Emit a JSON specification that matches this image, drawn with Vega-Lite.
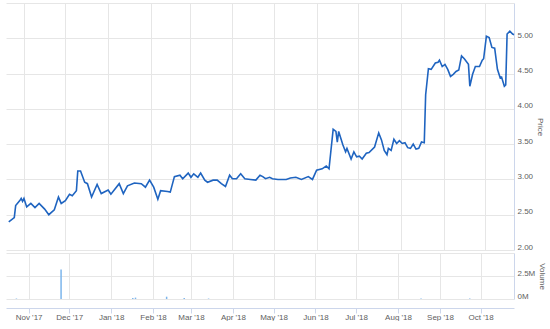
{
  "$schema": "https://vega.github.io/schema/vega-lite/v6.json",
  "padding": {"left": 5, "top": 3, "right": 0, "bottom": 0},
  "config": {
    "view": {"stroke": null},
    "font": "Liberation Sans",
    "axis": {
      "labelFont": "Liberation Sans",
      "labelFontSize": 8,
      "labelColor": "#606060",
      "titleFont": "Liberation Sans",
      "titleFontSize": 8,
      "titleFontWeight": "normal",
      "titleColor": "#606060",
      "gridColor": "#e6e6e6",
      "gridWidth": 1
    },
    "concat": {"spacing": 2}
  },
  "datasets": {
    "price": [
      {"date": "2017-10-21", "price": 2.40},
      {"date": "2017-10-25", "price": 2.46},
      {"date": "2017-10-26", "price": 2.63},
      {"date": "2017-10-29", "price": 2.70},
      {"date": "2017-10-30", "price": 2.73},
      {"date": "2017-10-31", "price": 2.69},
      {"date": "2017-11-01", "price": 2.73},
      {"date": "2017-11-03", "price": 2.61},
      {"date": "2017-11-06", "price": 2.66},
      {"date": "2017-11-09", "price": 2.60},
      {"date": "2017-11-12", "price": 2.66},
      {"date": "2017-11-16", "price": 2.58},
      {"date": "2017-11-19", "price": 2.50},
      {"date": "2017-11-23", "price": 2.57},
      {"date": "2017-11-26", "price": 2.75},
      {"date": "2017-11-28", "price": 2.66},
      {"date": "2017-12-01", "price": 2.70},
      {"date": "2017-12-04", "price": 2.79},
      {"date": "2017-12-06", "price": 2.77},
      {"date": "2017-12-09", "price": 2.84},
      {"date": "2017-12-10", "price": 3.12},
      {"date": "2017-12-12", "price": 3.12},
      {"date": "2017-12-15", "price": 2.96},
      {"date": "2017-12-17", "price": 2.94},
      {"date": "2017-12-20", "price": 2.75},
      {"date": "2017-12-24", "price": 2.93},
      {"date": "2017-12-27", "price": 2.80},
      {"date": "2018-01-01", "price": 2.85},
      {"date": "2018-01-03", "price": 2.79},
      {"date": "2018-01-09", "price": 2.94},
      {"date": "2018-01-12", "price": 2.80},
      {"date": "2018-01-15", "price": 2.91},
      {"date": "2018-01-20", "price": 2.95},
      {"date": "2018-01-25", "price": 2.94},
      {"date": "2018-01-28", "price": 2.89},
      {"date": "2018-01-31", "price": 2.99},
      {"date": "2018-02-03", "price": 2.89},
      {"date": "2018-02-06", "price": 2.72},
      {"date": "2018-02-08", "price": 2.84},
      {"date": "2018-02-13", "price": 2.83},
      {"date": "2018-02-15", "price": 2.82},
      {"date": "2018-02-18", "price": 3.04},
      {"date": "2018-02-22", "price": 3.06},
      {"date": "2018-02-24", "price": 3.01},
      {"date": "2018-02-28", "price": 3.09},
      {"date": "2018-03-02", "price": 3.03},
      {"date": "2018-03-04", "price": 3.08},
      {"date": "2018-03-07", "price": 3.03},
      {"date": "2018-03-09", "price": 3.09},
      {"date": "2018-03-12", "price": 2.99},
      {"date": "2018-03-14", "price": 2.96},
      {"date": "2018-03-18", "price": 2.99},
      {"date": "2018-03-21", "price": 2.99},
      {"date": "2018-03-24", "price": 2.94},
      {"date": "2018-03-27", "price": 2.90},
      {"date": "2018-03-30", "price": 3.06},
      {"date": "2018-04-01", "price": 3.01},
      {"date": "2018-04-04", "price": 3.01},
      {"date": "2018-04-07", "price": 3.08},
      {"date": "2018-04-10", "price": 3.01},
      {"date": "2018-04-14", "price": 3.00},
      {"date": "2018-04-18", "price": 2.99},
      {"date": "2018-04-21", "price": 3.06},
      {"date": "2018-04-23", "price": 3.04},
      {"date": "2018-04-25", "price": 3.01},
      {"date": "2018-04-28", "price": 3.03},
      {"date": "2018-04-30", "price": 3.01},
      {"date": "2018-05-04", "price": 3.00},
      {"date": "2018-05-10", "price": 3.00},
      {"date": "2018-05-13", "price": 3.02},
      {"date": "2018-05-17", "price": 3.03},
      {"date": "2018-05-21", "price": 3.00},
      {"date": "2018-05-26", "price": 3.04},
      {"date": "2018-05-29", "price": 3.00},
      {"date": "2018-06-01", "price": 3.13},
      {"date": "2018-06-05", "price": 3.15},
      {"date": "2018-06-08", "price": 3.19},
      {"date": "2018-06-10", "price": 3.15},
      {"date": "2018-06-13", "price": 3.71},
      {"date": "2018-06-15", "price": 3.68},
      {"date": "2018-06-16", "price": 3.53},
      {"date": "2018-06-17", "price": 3.68},
      {"date": "2018-06-20", "price": 3.49},
      {"date": "2018-06-22", "price": 3.39},
      {"date": "2018-06-23", "price": 3.44},
      {"date": "2018-06-26", "price": 3.29},
      {"date": "2018-06-28", "price": 3.39},
      {"date": "2018-06-30", "price": 3.32},
      {"date": "2018-07-02", "price": 3.33},
      {"date": "2018-07-04", "price": 3.29},
      {"date": "2018-07-07", "price": 3.37},
      {"date": "2018-07-09", "price": 3.38},
      {"date": "2018-07-13", "price": 3.46},
      {"date": "2018-07-16", "price": 3.66},
      {"date": "2018-07-18", "price": 3.56},
      {"date": "2018-07-20", "price": 3.41},
      {"date": "2018-07-22", "price": 3.35},
      {"date": "2018-07-23", "price": 3.44},
      {"date": "2018-07-25", "price": 3.41},
      {"date": "2018-07-27", "price": 3.57},
      {"date": "2018-07-29", "price": 3.51},
      {"date": "2018-07-31", "price": 3.55},
      {"date": "2018-08-02", "price": 3.51},
      {"date": "2018-08-04", "price": 3.52},
      {"date": "2018-08-06", "price": 3.45},
      {"date": "2018-08-08", "price": 3.44},
      {"date": "2018-08-10", "price": 3.50},
      {"date": "2018-08-12", "price": 3.43},
      {"date": "2018-08-14", "price": 3.44},
      {"date": "2018-08-16", "price": 3.53},
      {"date": "2018-08-18", "price": 3.52},
      {"date": "2018-08-19", "price": 4.20},
      {"date": "2018-08-21", "price": 4.57},
      {"date": "2018-08-23", "price": 4.56},
      {"date": "2018-08-26", "price": 4.65},
      {"date": "2018-08-28", "price": 4.66},
      {"date": "2018-08-29", "price": 4.69},
      {"date": "2018-08-31", "price": 4.60},
      {"date": "2018-09-02", "price": 4.63},
      {"date": "2018-09-04", "price": 4.56},
      {"date": "2018-09-06", "price": 4.46},
      {"date": "2018-09-08", "price": 4.49},
      {"date": "2018-09-10", "price": 4.53},
      {"date": "2018-09-12", "price": 4.55},
      {"date": "2018-09-14", "price": 4.75},
      {"date": "2018-09-16", "price": 4.71},
      {"date": "2018-09-19", "price": 4.63},
      {"date": "2018-09-20", "price": 4.32},
      {"date": "2018-09-22", "price": 4.49},
      {"date": "2018-09-24", "price": 4.60},
      {"date": "2018-09-27", "price": 4.60},
      {"date": "2018-09-29", "price": 4.69},
      {"date": "2018-09-30", "price": 4.71},
      {"date": "2018-10-02", "price": 5.03},
      {"date": "2018-10-04", "price": 5.01},
      {"date": "2018-10-06", "price": 4.87},
      {"date": "2018-10-08", "price": 4.86},
      {"date": "2018-10-10", "price": 4.56},
      {"date": "2018-10-12", "price": 4.44},
      {"date": "2018-10-13", "price": 4.45},
      {"date": "2018-10-15", "price": 4.32},
      {"date": "2018-10-16", "price": 4.34},
      {"date": "2018-10-17", "price": 5.06},
      {"date": "2018-10-19", "price": 5.10},
      {"date": "2018-10-21", "price": 5.06},
      {"date": "2018-10-22", "price": 5.05}
    ],
    "volume": [
      {"date": "2017-10-23", "volume": 50000},
      {"date": "2017-11-25", "volume": 3200000},
      {"date": "2018-01-17", "volume": 120000},
      {"date": "2018-01-19", "volume": 150000},
      {"date": "2018-02-11", "volume": 250000},
      {"date": "2018-02-24", "volume": 120000},
      {"date": "2018-03-14", "volume": 50000},
      {"date": "2018-08-18", "volume": 60000},
      {"date": "2018-09-23", "volume": 50000}
    ]
  },
  "vconcat": [
    {
      "width": 508,
      "height": 247,
      "data": {"name": "price"},
      "mark": {"type": "line", "color": "#1f64c0", "strokeWidth": 1.6},
      "encoding": {
        "x": {
          "field": "date",
          "type": "temporal",
          "scale": {"domain": [{"year": 2017, "month": 10, "date": 19}, {"year": 2018, "month": 10, "date": 22}], "nice": false},
          "axis": {"title": null, "labels": false, "ticks": false, "domain": false, "grid": true, "tickCount": {"interval": "month", "step": 1}}
        },
        "y": {
          "field": "price",
          "type": "quantitative",
          "scale": {"domain": [2, 5.5], "nice": false, "zero": false},
          "axis": {
            "orient": "right",
            "title": "Price",
            "values": [2, 2.5, 3, 3.5, 4, 4.5, 5, 5.5],
            "labelExpr": "datum.value >= 5.5 ? '' : format(datum.value, '.2f')",
            "ticks": false,
            "labelPadding": 3,
            "labelOffset": -3,
            "domainColor": "#ccd6eb",
            "titlePadding": 3
          }
        }
      }
    },
    {
      "width": 508,
      "height": 46,
      "data": {"name": "volume"},
      "mark": {"type": "bar", "color": "#7cb5ec", "size": 1.5},
      "encoding": {
        "x": {
          "field": "date",
          "type": "temporal",
          "scale": {"domain": [{"year": 2017, "month": 10, "date": 19}, {"year": 2018, "month": 10, "date": 22}], "nice": false},
          "axis": {
            "title": null,
            "format": "%b '%y",
            "tickCount": {"interval": "month", "step": 1},
            "grid": true,
            "offset": 9,
            "domainColor": "#ccd6eb",
            "tickColor": "#ccd6eb",
            "tickSize": 5,
            "labelPadding": 0,
            "labelFlush": false,
            "labelOverlap": false
          }
        },
        "y": {
          "field": "volume",
          "type": "quantitative",
          "scale": {"domain": [0, 5000000], "nice": false},
          "axis": {
            "orient": "right",
            "title": "Volume",
            "values": [0, 2500000, 5000000],
            "labelExpr": "datum.value >= 5000000 ? '' : (datum.value / 1000000) + 'M'",
            "ticks": false,
            "labelPadding": 3,
            "labelOffset": -3,
            "domainColor": "#ccd6eb",
            "titlePadding": 3
          }
        }
      }
    }
  ]
}
